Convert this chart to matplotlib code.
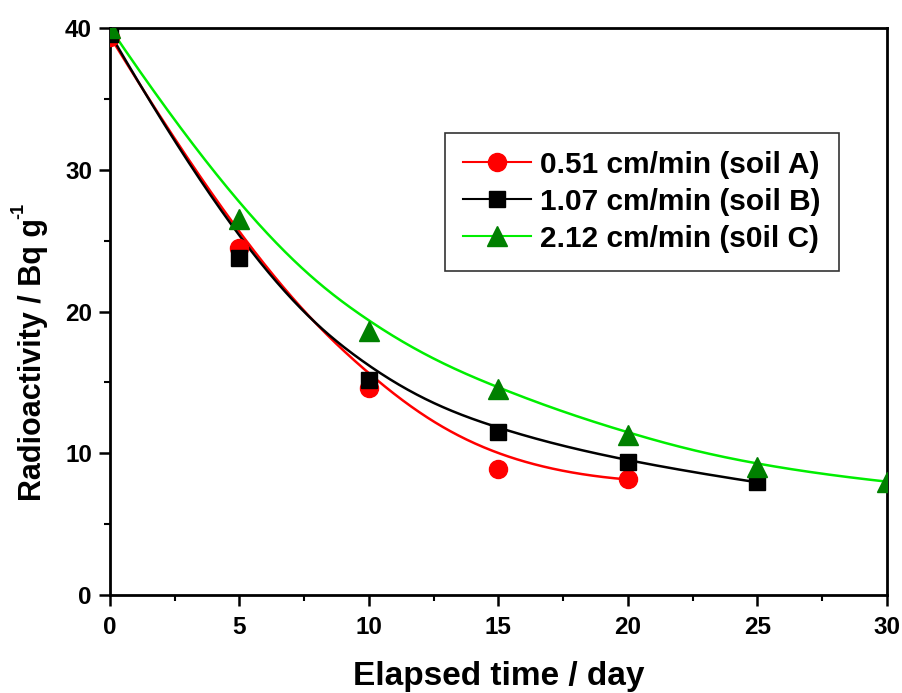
import numpy as np
import matplotlib
matplotlib.use("Agg")
import matplotlib.pyplot as plt
from matplotlib.ticker import MultipleLocator

# Data
x_a = [0, 5, 10, 15, 20]
y_a = [39.4, 24.5, 14.6, 8.9, 8.15]
x_b = [0, 5, 10, 15, 20, 25]
y_b = [39.6, 23.8, 15.2, 11.5, 9.35, 7.95]
x_c = [0, 5, 10, 15, 20, 25, 30]
y_c = [40.0, 26.5, 18.6, 14.5, 11.3, 9.0, 8.0]

x_ticks = [0, 5, 10, 15, 20, 25, 30]
x_tick_labels = ["0", "5", "10", "15", "20", "25", "30"]
y_ticks = [0, 10, 20, 30, 40]
y_tick_labels = ["0", "10", "20", "30", "40"]

labels = ["0.51 cm/min (soil A)", "1.07 cm/min (soil B)", "2.12 cm/min (s0il C)"]
line_colors = ["#ff0000", "#000000", "#00ee00"]
marker_colors = ["#ff0000", "#000000", "#008000"]
markers = ["o", "s", "^"]


def bspline_curve(px, py, k=3, n=400):
    """Clamped uniform cubic B-spline using the data points as control points."""
    P = np.column_stack([np.asarray(px, float), np.asarray(py, float)])
    m = len(P)
    inner = np.arange(0, m - k + 1, dtype=float)
    knots = np.concatenate([[0.0] * k, inner, [float(m - k)] * k])
    ts = np.linspace(0, m - k, n)

    def basis(i, p, t):
        if p == 0:
            if knots[i] <= t < knots[i + 1]:
                return 1.0
            if t == knots[-1] and knots[i] < t == knots[i + 1]:
                return 1.0
            return 0.0
        a = 0.0
        d1 = knots[i + p] - knots[i]
        if d1 > 0:
            a += (t - knots[i]) / d1 * basis(i, p - 1, t)
        d2 = knots[i + p + 1] - knots[i + 1]
        if d2 > 0:
            a += (knots[i + p + 1] - t) / d2 * basis(i + 1, p - 1, t)
        return a

    out = np.array([[basis(i, k, t) for i in range(m)] for t in ts]) @ P
    return out[:, 0], out[:, 1]


plt.rcParams['font.family'] = ['Liberation Sans', 'DejaVu Sans']
plt.rcParams['font.weight'] = 'bold'
plt.rcParams['axes.labelweight'] = 'bold'

fig = plt.figure(figsize=(9.02, 6.93), dpi=100)
ax = fig.add_axes([0.122, 0.1414, 0.861, 0.8182])

handles = []
for xs, ys, lab, lc, mc, mk in zip([x_a, x_b, x_c], [y_a, y_b, y_c], labels,
                                   line_colors, marker_colors, markers):
    fx, fy = bspline_curve(xs, ys)
    ax.plot(fx, fy, color=lc, lw=1.8, zorder=2)
    ms = 15 if mk == "^" else (13 if mk == "o" else 12)
    ax.plot(xs, ys, linestyle='none', marker=mk, color=mc, ms=ms, zorder=3)
    h, = ax.plot([], [], color=lc, lw=1.5, marker=mk, mfc=mc, mec=mc, ms=ms)
    handles.append(h)

ax.set_xlim(0, 30)
ax.set_ylim(0, 40)
ax.set_xticks(x_ticks)
ax.set_xticklabels(x_tick_labels, fontsize=17.5, fontweight='bold',
                   family='Liberation Sans')
ax.set_yticks(y_ticks)
ax.set_yticklabels(y_tick_labels, fontsize=17.5, fontweight='bold',
                   family='Liberation Sans')
ax.xaxis.set_minor_locator(MultipleLocator(2.5))
ax.yaxis.set_minor_locator(MultipleLocator(5))
ax.tick_params(which='major', direction='out', length=8, width=1.8,
               top=False, right=False)
ax.tick_params(axis='x', which='major', pad=7)
ax.tick_params(axis='y', which='major', pad=5)
ax.tick_params(which='minor', direction='out', length=4, width=1.5,
               top=False, right=False)
for sp in ax.spines.values():
    sp.set_linewidth(2)

ax.set_xlabel("Elapsed time / day", fontsize=24, fontweight='bold', labelpad=16)
ylab = ax.set_ylabel("Radioactivity / Bq g", fontsize=22, fontweight='bold')
ax.yaxis.set_label_coords(-0.080, 0.415)
ax.text(-0.080 - 0.037, 0.415 + 0.262, "-1", transform=ax.transAxes,
        rotation=90, fontsize=13, fontweight='bold', ha='center', va='center')

leg = ax.legend(handles, labels, loc='upper left', bbox_to_anchor=(0.431, 0.815),
                borderaxespad=0, fontsize=21.5, frameon=True, fancybox=False,
                edgecolor='black', handlelength=2.3, borderpad=0.6,
                labelspacing=0.3, handletextpad=0.3, markerscale=1.0)
leg.get_frame().set_linewidth(1.2)
for t in leg.get_texts():
    t.set_fontweight('bold')

fig.savefig("out.png", dpi=100)
